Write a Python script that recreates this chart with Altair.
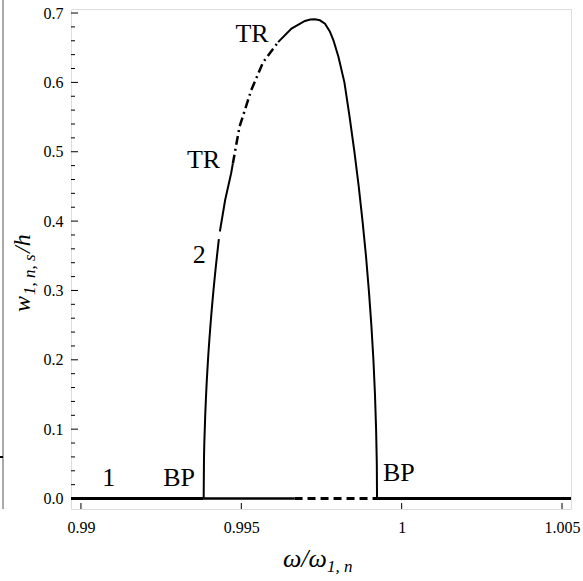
import altair as alt
import pandas as pd

FONT = "Liberation Serif"

# ---------------- axis ticks ----------------
x_ticks = [0.99, 0.995, 1.0, 1.005]
y_ticks = [0.0, 0.1, 0.2, 0.3, 0.4, 0.5, 0.6, 0.7]
y_minor = [0.02, 0.04, 0.06, 0.08, 0.12, 0.14, 0.16, 0.18, 0.22, 0.24, 0.26, 0.28,
           0.32, 0.34, 0.36, 0.38, 0.42, 0.44, 0.46, 0.48, 0.52, 0.54, 0.56, 0.58,
           0.62, 0.64, 0.66, 0.68]

# ---------------- trivial branch (w = 0) ----------------
triv_left_w = [0.9890, 0.993827]
triv_mid_w = [0.993827, 0.99666]
triv_dash_w = [0.99666, 0.999232]
triv_right_w = [0.999232, 1.0060]

# ---------------- non-trivial branch ----------------
# stable part below lower TR (with a small gap at label "2")
br_a_w = [0.993827, 0.993835, 0.993861, 0.993903, 0.993962, 0.994039, 0.994132, 0.994242, 0.994300]
br_a_y = [0.0, 0.05, 0.10, 0.15, 0.20, 0.25, 0.30, 0.35, 0.374]
br_b_w = [0.994332, 0.994495, 0.994683, 0.994737]
br_b_y = [0.385, 0.430, 0.469, 0.483]
# unstable part between the two TR points (dash-dot)
br_tr_w = [0.994737, 0.994944, 0.995311, 0.995678, 0.996148]
br_tr_y = [0.483, 0.536, 0.589, 0.629, 0.658]
# stable part from upper TR down to the right BP
br_c_w = [0.996148, 0.996565, 0.996983, 0.997150, 0.997296, 0.997450, 0.997610,
          0.997760, 0.997873, 0.998030, 0.998215, 0.998378, 0.998526, 0.998661,
          0.998780, 0.998887, 0.998977, 0.999055, 0.999119, 0.999168, 0.999203,
          0.999225, 0.999232]
br_c_y = [0.658, 0.6775, 0.6885, 0.6905, 0.691, 0.6895, 0.6847,
          0.6735, 0.6607, 0.6366, 0.600, 0.550, 0.500, 0.450,
          0.400, 0.350, 0.300, 0.250, 0.200, 0.150, 0.100,
          0.050, 0.0]

# ---------------- annotations ----------------
ann_text = ["1", "BP", "BP", "TR", "TR", "2"]
ann_w = [0.990866, 0.993062, 0.999912, 0.995336, 0.993821, 0.993689]
ann_y = [0.029, 0.029, 0.0363, 0.6703, 0.4878, 0.351]

X_DOM = [0.98969, 1.00528]
Y_DOM = [-0.0151, 0.7058]
W, H = 500, 500

xs = alt.Scale(domain=X_DOM, nice=False, zero=False)
ys = alt.Scale(domain=Y_DOM, nice=False, zero=False)

x_axis = alt.Axis(values=x_ticks, format=".3~f", tickSize=0, domain=False, grid=False,
                  labelFont=FONT, labelFontSize=16, labelColor="black", labelPadding=10,
                  labelFlush=False, title=None)
y_axis = alt.Axis(values=y_ticks, format=".1f", tickSize=0, domain=False, grid=False,
                  labelFont=FONT, labelFontSize=16, labelColor="black", labelPadding=8,
                  title=None)


def X(f="w"):
    return alt.X(f + ":Q", scale=xs, axis=x_axis)


def Y(f="y"):
    return alt.Y(f + ":Q", scale=ys, axis=y_axis)


def seg_df(w, y):
    return pd.DataFrame({"w": w, "y": y, "o": list(range(len(w)))})


def line(df, **kw):
    return alt.Chart(df).mark_line(color="black", clip=True, **kw).encode(
        x=X(), y=Y(), order="o:Q")


zeros2 = [0.0, 0.0]

# inward ticks
ytick_major = alt.Chart(pd.DataFrame({"y": y_ticks})).mark_rule(color="black", strokeWidth=1).encode(
    y=Y(), x=alt.value(0), x2=alt.value(7))
ytick_minor = alt.Chart(pd.DataFrame({"y": y_minor})).mark_rule(color="black", strokeWidth=1).encode(
    y=Y(), x=alt.value(0), x2=alt.value(4))
xtick_major = alt.Chart(pd.DataFrame({"w": x_ticks})).mark_rule(color="black", strokeWidth=1).encode(
    x=X(), y=alt.value(H), y2=alt.value(H - 6))

l_triv_left = line(seg_df(triv_left_w, zeros2), strokeWidth=3)
l_triv_mid = line(seg_df(triv_mid_w, zeros2), strokeWidth=2.5)
l_triv_dash = line(seg_df(triv_dash_w, zeros2), strokeWidth=3, strokeDash=[8, 5])
l_triv_right = line(seg_df(triv_right_w, zeros2), strokeWidth=3)
l_a = line(seg_df(br_a_w, br_a_y), strokeWidth=2, interpolate="monotone")
l_b = line(seg_df(br_b_w, br_b_y), strokeWidth=2)
l_tr = line(seg_df(br_tr_w, br_tr_y), strokeWidth=2.5, strokeDash=[9, 4, 2, 4])
l_c = line(seg_df(br_c_w, br_c_y), strokeWidth=2)

ann = alt.Chart(pd.DataFrame({"t": ann_text, "w": ann_w, "y": ann_y})).mark_text(
    font=FONT, fontSize=26, color="black", align="center", baseline="middle"
).encode(x=X(), y=Y(), text="t:N")


def label(txt, px, py, size, angle=0, italic=True):
    kw = dict(font=FONT, fontSize=size, color="black", align="left", baseline="alphabetic")
    if italic:
        kw["fontStyle"] = "italic"
    if angle:
        kw["angle"] = angle
    return alt.Chart(pd.DataFrame({"t": [txt]})).mark_text(**kw).encode(
        x=alt.value(px), y=alt.value(py), text="t:N")


# x-axis title  ω/ω_{1,n}
xt1 = label("ω/ω", 212, 558, 26)
xt2 = label("1, n", 256, 563, 17)
# y-axis title  w_{1,n,s}/h  (rotated)
yt1 = label("w", -41, 303, 24, angle=270)
yt2 = label("1, n, s", -36.5, 286, 17, angle=270)
yt3 = label("/h", -41, 244, 24, angle=270)

# fragment of neighbouring panel frame at the left edge
frag = alt.Chart(pd.DataFrame({"a": [0]})).mark_rule(color="#555", strokeWidth=1).encode(
    x=alt.value(-68), y=alt.value(-9), y2=alt.value(500))
frag_tick = alt.Chart(pd.DataFrame({"a": [0]})).mark_rule(color="black", strokeWidth=2).encode(
    x=alt.value(-71), x2=alt.value(-68), y=alt.value(448))

chart = alt.layer(
    ytick_major, ytick_minor, xtick_major,
    l_triv_left, l_triv_mid, l_triv_dash, l_triv_right,
    l_a, l_b, l_tr, l_c, ann,
    xt1, xt2, yt1, yt2, yt3, frag, frag_tick,
).properties(
    width=W, height=H,
    autosize=alt.AutoSizeParams(type="none"),
    padding={"left": 71, "top": 9, "right": 12, "bottom": 72},
).configure_view(stroke="black", strokeWidth=1).configure(background="white")

chart.save("out.html", embed_options={"renderer": "svg", "actions": False})
